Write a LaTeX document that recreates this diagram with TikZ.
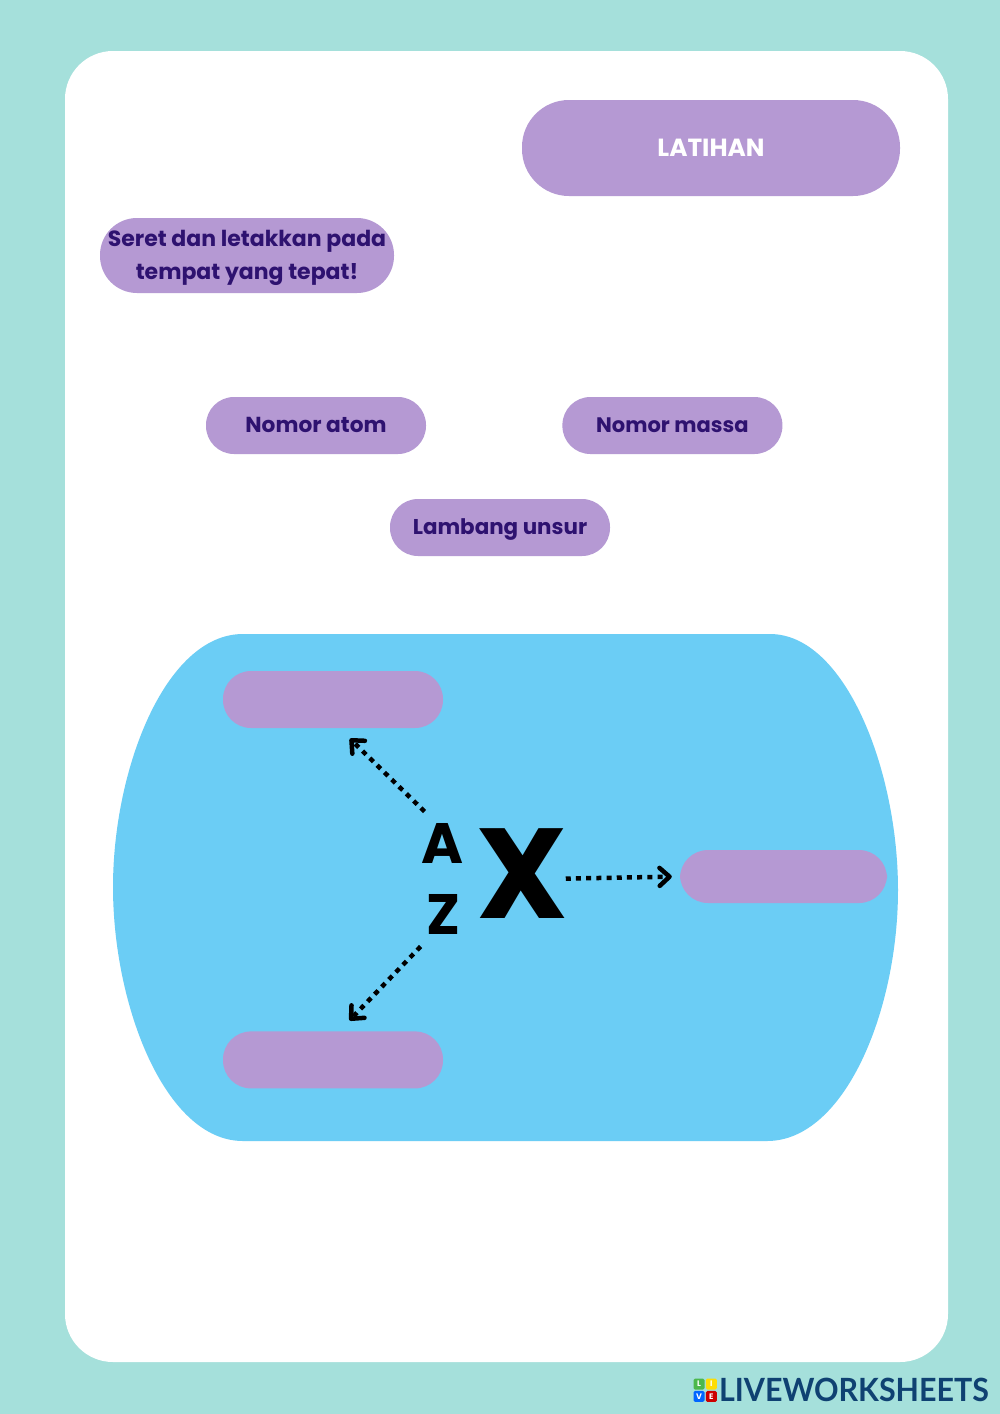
\documentclass[tikz,border=0pt]{standalone}
\usepackage{fontspec}
\setmainfont{Poppins}
\newfontfamily\logofont{Lato}
\usetikzlibrary{positioning, arrows.meta}
\definecolor{pagebg}{HTML}{A5E0DB}
\definecolor{blobblue}{HTML}{6BCDF5}
\definecolor{pillpurple}{HTML}{B599D3}
\definecolor{inkpurple}{HTML}{2E1270}
\definecolor{logoblue}{HTML}{0F4172}
\tikzset{
    pill/.style={fill=pillpurple, rounded corners=28pt, minimum width=220pt, minimum height=57pt, inner sep=0pt, text=inkpurple, font=\bfseries\fontsize{21.7}{25}\selectfont},
    oneline/.style={text height=15pt, text depth=2pt},
    symb/.style={inner sep=0pt, outer sep=12pt, font=\bfseries\fontsize{57}{57}\selectfont},
    dotarrow/.style={line width=4.5pt, dash pattern=on 5pt off 5.2pt, -{Straight Barb[length=10pt, width=18pt, line width=4.5pt, round]}},
    logosq/.style={minimum size=11pt, inner sep=0pt, rounded corners=1.5pt, text=white, font=\bfseries\fontsize{8}{8}\selectfont}
}
\begin{document}
\begin{tikzpicture}[x=1pt, y=1pt]
    \useasboundingbox (0,0) rectangle (1000,-1414);
    \fill[pagebg] (0,0) rectangle (1000,-1414);
    \fill[white, rounded corners=48pt] (65,-51) rectangle (948,-1362);
    \fill[blobblue] (243,-634) -- (770,-634) .. controls (845,-634) and (898,-770) .. (898,-890)
        .. controls (898,-1010) and (845,-1141) .. (767,-1141) -- (243,-1141)
        .. controls (165,-1141) and (113,-1005) .. (113,-887) .. controls (113,-770) and (165,-634) .. (243,-634);

    \node [pill, minimum width=378pt, minimum height=96pt, rounded corners=47pt, text=white, text height=18pt, text depth=2pt, font=\bfseries\fontsize{24.8}{25}\selectfont] (latihan) at (711,-148) {LATIHAN};
    \node [pill, minimum width=294pt, minimum height=75pt, rounded corners=37pt, align=center, font=\bfseries\fontsize{22}{33}\selectfont] (seret) at (247,-255.5) {\rule{0pt}{20.5pt}Seret dan letakkan pada\\tempat yang tepat!};
    \node [pill, oneline] (atom) at (316,-425.5) {Nomor atom};
    \node [pill, oneline, right=136pt of atom, font=\bfseries\fontsize{21}{25}\selectfont] (massa) {Nomor massa};
    \node [pill, oneline, font=\bfseries\fontsize{21.4}{25}\selectfont] (lambang) at (500,-527.5) {Lambang unsur};

    \node [pill] (slotmassa) at (333,-699.5) {};
    \node [pill, below=303pt of slotmassa] (slotatom) {};
    \node [pill, minimum width=207pt, minimum height=53pt] (slotlambang) at (783.5,-876.5) {};

    \node [symb] (hurufa) at (443,-843.5) {A};
    \node [symb, below=7pt of hurufa] (hurufz) {Z};
    \node [symb, outer sep=2pt, font=\bfseries\fontsize{128}{128}\selectfont] (hurufx) at (522,-873.5) {X};

    \draw [dotarrow, shorten >=15pt] (hurufa.120) -- (slotmassa.-78);
    \draw [dotarrow, shorten <=-4pt, shorten >=8pt] (hurufx.-6) -- (slotlambang.west);
    \draw [dotarrow, shorten >=15pt] (hurufz.-125) -- (slotatom.78);

    \node [logosq, fill=green!60!black!70!white] (logol) at (699,-1384) {L};
    \node [logosq, fill=yellow!80!orange, right=1pt of logol] (logoi) {I};
    \node [logosq, fill=blue!60!cyan, below=1pt of logol] (logov) {V};
    \node [logosq, fill=red!80!black, below=1pt of logoi] (logoe) {E};
    \node [inner sep=0pt, text=logoblue, font=\logofont\bfseries\fontsize{32}{33}\selectfont] (logo) at (854,-1390) {\scalebox{.95}[1]{LIVEWORKSHEETS}};
\end{tikzpicture}
\end{document}
